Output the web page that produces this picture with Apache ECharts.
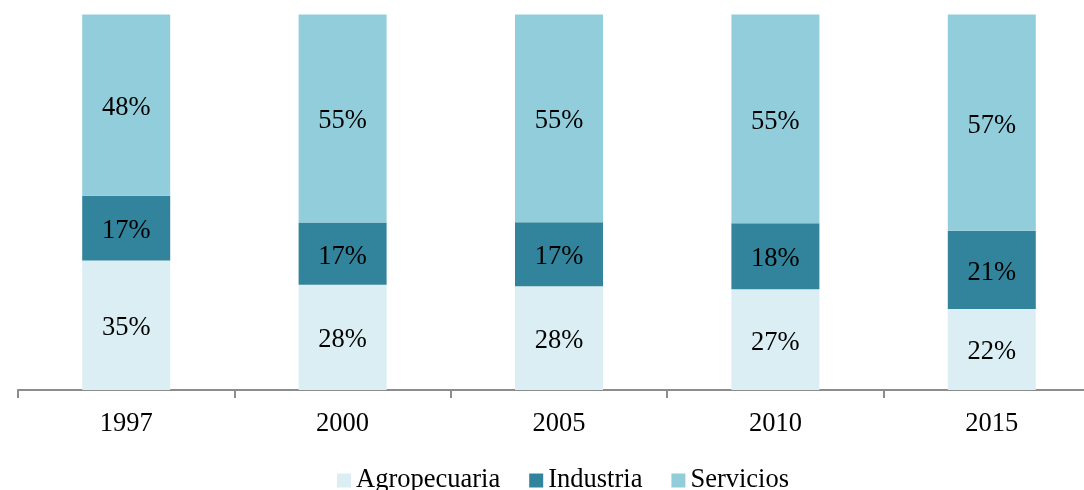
<!DOCTYPE html>
<html>
<head>
<meta charset="utf-8">
<script src="https://cdn.jsdelivr.net/npm/echarts@6/dist/echarts.min.js"></script>
<style>
html,body{margin:0;padding:0;background:#fff;overflow:hidden;}
#chart{width:1100px;height:490px;}
</style>
</head>
<body>
<div id="chart"></div>
<script>
const categories = ['1997', '2000', '2005', '2010', '2015'];
const agropecuaria = [34.5, 28.0, 27.6, 26.8, 21.6];
const industria = [17.2, 16.6, 17.1, 17.6, 20.8];
const servicios = [48.3, 55.4, 55.3, 55.6, 57.6];
const agroLabels = ['35%', '28%', '28%', '27%', '22%'];
const indLabels = ['17%', '17%', '17%', '18%', '21%'];
const servLabels = ['48%', '55%', '55%', '55%', '57%'];

const FONT = '"Liberation Serif", "Times New Roman", serif';
const FS = 26.5;

function mk(name, data, labels, color) {
  return {
    name: name,
    type: 'bar',
    stack: 'total',
    barWidth: 88,
    data: data,
    itemStyle: { color: color },
    label: {
      show: true,
      position: 'inside',
      offset: [0, 3],
      color: '#000',
      fontFamily: FONT,
      fontSize: FS,
      formatter: p => labels[p.dataIndex]
    },
    emphasis: { disabled: true }
  };
}

const chart = echarts.init(document.getElementById('chart'), null, { renderer: 'canvas' });
chart.setOption({
  animation: false,
  backgroundColor: '#fff',
  grid: { left: 18, right: 0, top: 14.5, height: 375.5, containLabel: false },
  xAxis: {
    type: 'category',
    data: categories,
    boundaryGap: true,
    axisLine: { lineStyle: { color: '#8c8c8c', width: 2 } },
    axisTick: { show: true, length: 8, lineStyle: { color: '#8c8c8c', width: 2 } },
    axisLabel: { color: '#000', fontFamily: FONT, fontSize: FS, margin: 21 }
  },
  yAxis: {
    type: 'value',
    min: 0,
    max: 100,
    show: false,
    splitLine: { show: false }
  },
  legend: {
    left: 337,
    top: 467,
    padding: 0,
    itemWidth: 14,
    itemHeight: 14,
    itemGap: 29,
    icon: 'rect',
    textStyle: { color: '#000', fontFamily: FONT, fontSize: FS },
    data: ['Agropecuaria', 'Industria', 'Servicios']
  },
  series: [
    mk('Agropecuaria', agropecuaria, agroLabels, '#DAEEF3'),
    mk('Industria', industria, indLabels, '#31849B'),
    mk('Servicios', servicios, servLabels, '#92CDDC')
  ]
});
</script>
</body>
</html>
